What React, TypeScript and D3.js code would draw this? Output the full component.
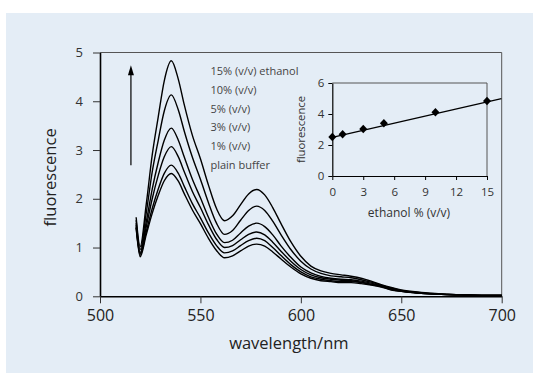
import React, { useRef, useEffect } from 'react';
import * as d3 from 'd3';

// wavelength grid (nm) shared by all spectra
const wavelengths = [518, 520, 523, 526, 529, 532, 535.5, 539, 542, 546, 550, 554, 558, 562, 566, 570, 574, 578, 582, 586, 590, 595, 600, 605, 610, 615, 620, 625, 630, 635, 640, 645, 650, 660, 670, 680, 690, 700];

const ethanol15 = [1.62, 1.02, 1.88, 2.9, 3.68, 4.42, 4.83, 4.45, 3.92, 3.3, 2.82, 2.28, 1.8, 1.55, 1.65, 1.88, 2.1, 2.19, 2.08, 1.82, 1.5, 1.12, 0.82, 0.62, 0.52, 0.47, 0.44, 0.41, 0.37, 0.31, 0.24, 0.18, 0.13, 0.08, 0.05, 0.03, 0.02, 0.02];
const ethanol10 = [1.56, 0.96, 1.7, 2.55, 3.2, 3.8, 4.13, 3.82, 3.38, 2.85, 2.4, 1.92, 1.5, 1.27, 1.35, 1.56, 1.76, 1.85, 1.76, 1.54, 1.27, 0.96, 0.72, 0.56, 0.47, 0.42, 0.4, 0.38, 0.34, 0.29, 0.23, 0.17, 0.12, 0.07, 0.05, 0.03, 0.02, 0.02];
const ethanol5 = [1.5, 0.9, 1.52, 2.2, 2.75, 3.2, 3.45, 3.2, 2.85, 2.4, 2.02, 1.62, 1.28, 1.1, 1.15, 1.3, 1.44, 1.5, 1.43, 1.26, 1.04, 0.8, 0.6, 0.48, 0.41, 0.37, 0.35, 0.34, 0.31, 0.27, 0.22, 0.16, 0.11, 0.07, 0.04, 0.03, 0.02, 0.02];
const ethanol3 = [1.46, 0.87, 1.42, 2.0, 2.48, 2.86, 3.07, 2.86, 2.55, 2.15, 1.82, 1.47, 1.17, 1.0, 1.04, 1.16, 1.27, 1.32, 1.26, 1.11, 0.93, 0.72, 0.55, 0.44, 0.38, 0.35, 0.33, 0.32, 0.29, 0.25, 0.21, 0.15, 0.11, 0.06, 0.04, 0.03, 0.02, 0.02];
const ethanol1 = [1.42, 0.84, 1.32, 1.8, 2.2, 2.52, 2.69, 2.52, 2.25, 1.9, 1.61, 1.3, 1.04, 0.89, 0.93, 1.04, 1.14, 1.19, 1.14, 1.0, 0.84, 0.65, 0.5, 0.4, 0.35, 0.32, 0.3, 0.3, 0.28, 0.24, 0.2, 0.14, 0.1, 0.06, 0.04, 0.03, 0.02, 0.02];
const plainBuffer = [1.4, 0.81, 1.26, 1.7, 2.07, 2.37, 2.52, 2.36, 2.1, 1.77, 1.49, 1.19, 0.94, 0.79, 0.83, 0.93, 1.03, 1.07, 1.03, 0.91, 0.77, 0.6, 0.46, 0.37, 0.32, 0.3, 0.28, 0.28, 0.26, 0.23, 0.19, 0.13, 0.1, 0.06, 0.04, 0.03, 0.02, 0.02];

const legendLabels = ['15% (v/v) ethanol', '10% (v/v)', '5% (v/v)', '3% (v/v)', '1% (v/v)', 'plain buffer'];

const xTicks = [500, 550, 600, 650, 700];
const yTicks = [0, 1, 2, 3, 4, 5];

// inset: peak fluorescence vs ethanol %
const insetEthanol = [0, 1, 3, 5, 10, 15];
const insetPeak = [2.52, 2.69, 3.03, 3.4, 4.11, 4.84];
const trendX = [0, 16.4];
const trendY = [2.49, 4.99];
const insetXTicks = [0, 3, 6, 9, 12, 15];
const insetYTicks = [0, 2, 4, 6];

const FONT = "'Open Sans', sans-serif";

function App() {
    const ref = useRef(null);

    useEffect(() => {
        const svg = d3.select(ref.current);
        svg.selectAll('*').remove();

        svg.append('rect')
            .attr('x', 6).attr('y', 13)
            .attr('width', 527).attr('height', 360)
            .attr('fill', '#e4edf6');

        const left = 100, right = 501.7, top = 52.5, bottom = 296.3;

        const x = d3.scaleLinear().domain([500, 700]).range([left, right]);
        const y = d3.scaleLinear().domain([0, 5]).range([bottom, top]);

        // frame top / right
        svg.append('path')
            .attr('d', `M${left},${top}H${right}V${bottom}`)
            .attr('fill', 'none')
            .attr('stroke', '#555')
            .attr('stroke-width', 1);

        // y axis
        const yAxis = svg.append('g')
            .attr('transform', `translate(${left},0)`)
            .call(d3.axisLeft(y).tickValues(yTicks).tickFormat(d3.format('d')).tickSize(7).tickPadding(10).tickSizeOuter(0));
        yAxis.select('.domain').attr('stroke', '#000').attr('stroke-width', 1.6);
        yAxis.selectAll('line').attr('stroke', '#333');
        yAxis.selectAll('text').attr('font-family', FONT).attr('font-size', 13).attr('fill', '#333');

        // x axis
        const xAxis = svg.append('g')
            .attr('transform', `translate(0,${bottom})`)
            .call(d3.axisBottom(x).tickValues(xTicks).tickFormat(d3.format('d')).tickSize(7).tickPadding(6).tickSizeOuter(0));
        xAxis.select('.domain').attr('stroke', '#000').attr('stroke-width', 1.6);
        xAxis.selectAll('line').attr('stroke', '#333');
        xAxis.selectAll('text').attr('font-family', FONT).attr('font-size', 16).attr('fill', '#222');

        svg.append('text')
            .attr('x', (left + right) / 2 - 12)
            .attr('y', 349)
            .attr('text-anchor', 'middle')
            .attr('font-family', FONT)
            .attr('font-size', 16.5)
            .attr('fill', '#222')
            .text('wavelength/nm');

        svg.append('text')
            .attr('transform', `translate(56,${(top + bottom) / 2 + 3}) rotate(-90)`)
            .attr('text-anchor', 'middle')
            .attr('font-family', FONT)
            .attr('font-size', 16.5)
            .attr('fill', '#222')
            .text('fluorescence');

        // spectra
        const line = d3.line()
            .x((d, i) => x(wavelengths[i]))
            .y(d => y(d))
            .curve(d3.curveMonotoneX);

        [ethanol15, ethanol10, ethanol5, ethanol3, ethanol1, plainBuffer].forEach(series => {
            svg.append('path')
                .attr('d', line(series))
                .attr('fill', 'none')
                .attr('stroke', '#000')
                .attr('stroke-width', 1.4);
        });

        // arrow
        const ax = x(515.4);
        svg.append('line')
            .attr('x1', ax).attr('x2', ax)
            .attr('y1', y(2.69)).attr('y2', y(4.74) + 8)
            .attr('stroke', '#000').attr('stroke-width', 1.2);
        svg.append('path')
            .attr('d', `M${ax},${y(4.74)}L${ax + 3},${y(4.74) + 10}L${ax - 3},${y(4.74) + 10}Z`)
            .attr('fill', '#000');

        // legend labels
        legendLabels.forEach((lbl, i) => {
            svg.append('text')
                .attr('x', x(555))
                .attr('y', 75 + i * 18.8)
                .attr('font-family', FONT)
                .attr('font-size', 11)
                .attr('fill', '#444')
                .text(lbl);
        });

        // inset
        const il = 332.3, ir = 487, it = 83, ib = 176;
        const xi = d3.scaleLinear().domain([0, 15]).range([il, ir]);
        const yi = d3.scaleLinear().domain([0, 6]).range([ib, it]);

        svg.append('path')
            .attr('d', `M${il},${it}H${ir}V${ib}`)
            .attr('fill', 'none')
            .attr('stroke', '#555')
            .attr('stroke-width', 1);

        const iy = svg.append('g')
            .attr('transform', `translate(${il},0)`)
            .call(d3.axisLeft(yi).tickValues(insetYTicks).tickFormat(d3.format('d')).tickSize(4).tickPadding(4).tickSizeOuter(0));
        iy.select('.domain').attr('stroke', '#000').attr('stroke-width', 1.2);
        iy.selectAll('text').attr('font-family', FONT).attr('font-size', 11.5).attr('fill', '#333');

        const ix = svg.append('g')
            .attr('transform', `translate(0,${ib})`)
            .call(d3.axisBottom(xi).tickValues(insetXTicks).tickFormat(d3.format('d')).tickSize(4).tickPadding(8).tickSizeOuter(0));
        ix.select('.domain').attr('stroke', '#000').attr('stroke-width', 1.2);
        ix.selectAll('text').attr('font-family', FONT).attr('font-size', 11.5).attr('fill', '#333');

        svg.append('text')
            .attr('x', 409)
            .attr('y', 217)
            .attr('text-anchor', 'middle')
            .attr('font-family', FONT)
            .attr('font-size', 12)
            .attr('fill', '#333')
            .text('ethanol % (v/v)');

        svg.append('text')
            .attr('transform', `translate(305,${(it + ib) / 2}) rotate(-90)`)
            .attr('text-anchor', 'middle')
            .attr('font-family', FONT)
            .attr('font-size', 11.3)
            .attr('fill', '#333')
            .text('fluorescence');

        svg.append('path')
            .attr('d', d3.line()(trendX.map((d, i) => [xi(d), yi(trendY[i])])))
            .attr('fill', 'none')
            .attr('stroke', '#000')
            .attr('stroke-width', 1.2);

        svg.selectAll('.pt')
            .data(insetEthanol)
            .enter().append('path')
            .attr('class', 'pt')
            .attr('d', (d, i) => {
                const px = xi(d), py = yi(insetPeak[i]);
                return `M${px},${py - 4.2}L${px + 4},${py}L${px},${py + 4.2}L${px - 4},${py}Z`;
            })
            .attr('fill', '#000');
    }, []);

    return (
        <svg ref={ref} width={533} height={373} style={{ position: 'absolute', left: 0, top: 0 }} />
    );
}

export default App;
